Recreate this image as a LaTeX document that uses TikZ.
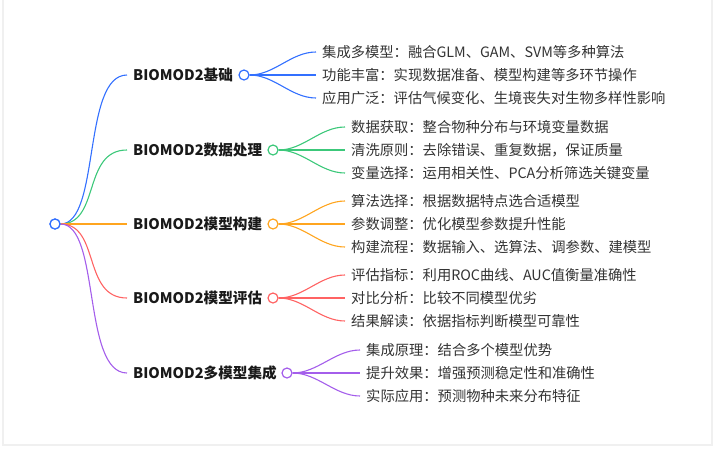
\documentclass[tikz,border=0pt]{standalone}
\usepackage{fontspec}
\setmainfont{Noto Sans CJK SC}
\usepackage{tikz}
\definecolor{cblue}{HTML}{3370FF}
\definecolor{cgreen}{HTML}{3CC87A}
\definecolor{corange}{HTML}{FFA51F}
\definecolor{cred}{HTML}{FF6363}
\definecolor{cpurple}{HTML}{A45EEB}
\tikzset{
  hub/.style={circle, draw=#1, fill=white, line width=1.2pt, minimum size=10pt, inner sep=0pt},
  topic/.style={anchor=west, inner sep=0pt, font=\fontsize{14.6}{16}\selectfont\bfseries, text=black!90},
  leaf/.style={anchor=west, inner ysep=0pt, inner xsep=6pt, font=\fontsize{14.3}{16}\selectfont, text=black!80},
  link/.style={line width=1.1pt, draw=#1}
}
\begin{document}
\begin{tikzpicture}[x=1pt, y=-1pt]
\useasboundingbox (0,0) rectangle (715,450);
\draw[black!6, line width=2pt] (3,-2) -- (3,445) -- (712,445) -- (712,-2);

\node(root)[hub=cblue] at (55,224) {};

% topics
\node(t1)[topic] at (133,75) {BIOMOD2基础};
\node(t2)[topic] at (133,150) {BIOMOD2数据处理};
\node(t3)[topic] at (133,224) {BIOMOD2模型构建};
\node(t4)[topic] at (133,298) {BIOMOD2模型评估};
\node(t5)[topic] at (133,373) {BIOMOD2多模型集成};

\draw[link=cblue](root.east) .. controls +(40,0) and +(-45,0) .. ([xshift=-6pt]t1.west);
\draw[link=cgreen](root.east) .. controls +(40,0) and +(-45,0) .. ([xshift=-6pt]t2.west);
\draw[link=corange](root.east) -- ([xshift=-6pt]t3.west);
\draw[link=cred](root.east) .. controls +(40,0) and +(-45,0) .. ([xshift=-6pt]t4.west);
\draw[link=cpurple](root.east) .. controls +(40,0) and +(-45,0) .. ([xshift=-6pt]t5.west);
\node[hub=cblue] at (root) {};

\node(h1)[hub=cblue] at (244,75) {};
\node(h2)[hub=cgreen] at (273,150) {};
\node(h3)[hub=corange] at (273,224) {};
\node(h4)[hub=cred] at (273,298) {};
\node(h5)[hub=cpurple] at (287,373) {};

% leaves
\node(a1)[leaf] at (316,52) {集成多模型：融合GLM、GAM、SVM等多种算法};
\node(a2)[leaf] at (316,75) {功能丰富：实现数据准备、模型构建等多环节操作};
\node(a3)[leaf] at (316,98) {应用广泛：评估气候变化、生境丧失对生物多样性影响};
\node(b1)[leaf] at (345,127) {数据获取：整合物种分布与环境变量数据};
\node(b2)[leaf] at (345,150) {清洗原则：去除错误、重复数据，保证质量};
\node(b3)[leaf] at (345,173) {变量选择：运用相关性、PCA分析筛选关键变量};
\node(c1)[leaf] at (345,201) {算法选择：根据数据特点选合适模型};
\node(c2)[leaf] at (345,224) {参数调整：优化模型参数提升性能};
\node(c3)[leaf] at (345,247) {构建流程：数据输入、选算法、调参数、建模型};
\node(d1)[leaf] at (345,275) {评估指标：利用ROC曲线、AUC值衡量准确性};
\node(d2)[leaf] at (345,298) {对比分析：比较不同模型优劣};
\node(d3)[leaf] at (345,321) {结果解读：依据指标判断模型可靠性};
\node(e1)[leaf] at (360,350) {集成原理：结合多个模型优势};
\node(e2)[leaf] at (360,373) {提升效果：增强预测稳定性和准确性};
\node(e3)[leaf] at (360,396) {实际应用：预测物种未来分布特征};

\draw[link=cblue](h1.east) .. controls +(25,0) and +(-25,0) .. (a1.west);
\draw[link=cblue](h1.east) -- (a2.west);
\draw[link=cblue](h1.east) .. controls +(25,0) and +(-25,0) .. (a3.west);
\draw[link=cgreen](h2.east) .. controls +(25,0) and +(-25,0) .. (b1.west);
\draw[link=cgreen](h2.east) -- (b2.west);
\draw[link=cgreen](h2.east) .. controls +(25,0) and +(-25,0) .. (b3.west);
\draw[link=corange](h3.east) .. controls +(25,0) and +(-25,0) .. (c1.west);
\draw[link=corange](h3.east) -- (c2.west);
\draw[link=corange](h3.east) .. controls +(25,0) and +(-25,0) .. (c3.west);
\draw[link=cred](h4.east) .. controls +(25,0) and +(-25,0) .. (d1.west);
\draw[link=cred](h4.east) -- (d2.west);
\draw[link=cred](h4.east) .. controls +(25,0) and +(-25,0) .. (d3.west);
\draw[link=cpurple](h5.east) .. controls +(25,0) and +(-25,0) .. (e1.west);
\draw[link=cpurple](h5.east) -- (e2.west);
\draw[link=cpurple](h5.east) .. controls +(25,0) and +(-25,0) .. (e3.west);

\end{tikzpicture}
\end{document}
